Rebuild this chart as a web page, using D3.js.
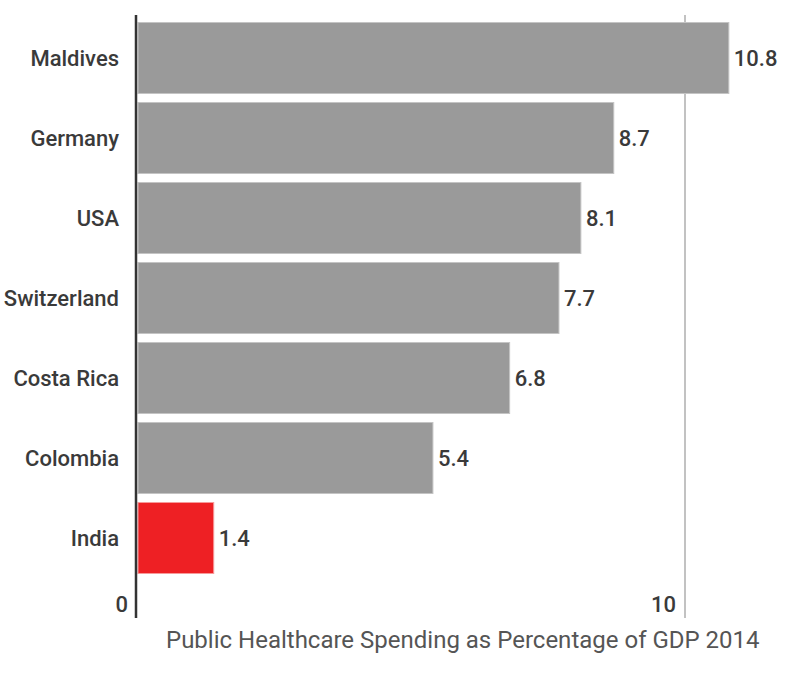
<!DOCTYPE html>
<html><head><meta charset="utf-8">
<script src="https://cdn.jsdelivr.net/npm/d3@7"></script>
<style>body{margin:0;background:#fff}svg{display:block}</style>
</head><body>
<svg id="c" width="800" height="680"></svg>
<script>
const countries = ["Maldives","Germany","USA","Switzerland","Costa Rica","Colombia","India"];
const values = [10.8, 8.7, 8.1, 7.7, 6.8, 5.4, 1.4];
const highlight = ["India"];
const xTicks = [0, 10];
const axisTitle = "Public Healthcare Spending as Percentage of GDP 2014";

const svg = d3.select("#c");
const x = d3.scaleLinear().domain([0, 10]).range([137, 685]);
const y = d3.scaleBand().domain(countries).range([18, 578]).paddingInner(0.1125).paddingOuter(0.05625);
const font = "Roboto, 'Open Sans', sans-serif";

// gridline at 10
svg.append("g").selectAll("line").data(xTicks.filter(d => d !== 0)).join("line")
  .attr("x1", d => x(d)).attr("x2", d => x(d))
  .attr("y1", 15).attr("y2", 618)
  .attr("stroke", "#999").attr("stroke-width", 1.2);

// bars
svg.append("g").selectAll("rect").data(countries).join("rect")
  .attr("x", x(0) + 1)
  .attr("y", d => y(d))
  .attr("width", (d, i) => x(values[i]) - x(0) - 1)
  .attr("height", y.bandwidth())
  .attr("fill", d => highlight.includes(d) ? "#ee2024" : "#9a9a9a")
  .attr("stroke", d => highlight.includes(d) ? "#f79a9a" : "#c4c4c4")
  .attr("stroke-width", 1);

// value labels
svg.append("g").selectAll("text").data(countries).join("text")
  .attr("x", (d, i) => x(values[i]) + 5)
  .attr("y", d => y(d) + y.bandwidth() / 2)
  .attr("dy", "0.35em")
  .attr("font-family", font).attr("font-size", 22).attr("font-weight", 500)
  .attr("fill", "#3a3a3a")
  .text((d, i) => values[i]);

// category labels
svg.append("g").selectAll("text").data(countries).join("text")
  .attr("x", 119)
  .attr("y", d => y(d) + y.bandwidth() / 2)
  .attr("dy", "0.35em")
  .attr("text-anchor", "end")
  .attr("font-family", font).attr("font-size", 22).attr("font-weight", 500)
  .attr("fill", "#3a3a3a")
  .text(d => d);

// axis line
svg.append("line")
  .attr("x1", 136).attr("x2", 136).attr("y1", 15).attr("y2", 618)
  .attr("stroke", "#333").attr("stroke-width", 2.5);

// tick labels
svg.append("g").selectAll("text").data(xTicks).join("text")
  .attr("x", d => x(d) - 9)
  .attr("y", 612)
  .attr("text-anchor", "end")
  .attr("font-family", font).attr("font-size", 22).attr("font-weight", 500)
  .attr("fill", "#3a3a3a")
  .text(d => d);

// axis title
svg.append("text")
  .attr("x", 166).attr("y", 648)
  .attr("font-family", font).attr("font-size", 24)
  .attr("fill", "#555")
  .text(axisTitle);
</script>
</body></html>
